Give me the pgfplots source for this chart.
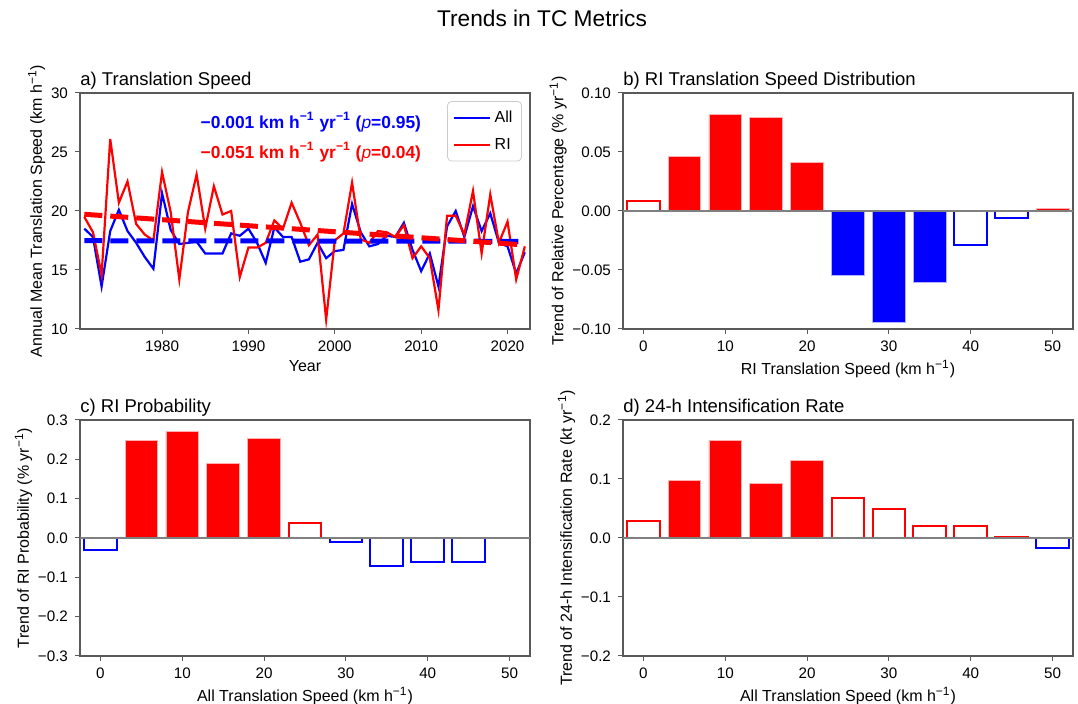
\documentclass[border=0pt]{standalone}
\usepackage{fontspec}
\setmainfont{Liberation Sans}
\usepackage{pgfplots}
\pgfplotsset{compat=1.18}

\definecolor{framegray}{gray}{0.35}
\definecolor{zerogray}{gray}{0.5}

\newcommand{\ticksize}{\fontsize{7.6}{9}\selectfont}
\newcommand{\labsize}{\fontsize{8}{9.5}\selectfont}
\newcommand{\inv}{\textsuperscript{−1}}

\pgfplotsset{
  panel/.style={
    scale only axis, width=225pt, height=118pt, anchor=south west,
    axis line style={framegray, line width=0.6pt},
    tick style={framegray, line width=0.5pt},
    tick align=outside, major tick length=2.5pt,
    xtick pos=bottom, ytick pos=left,
    tick label style={font=\ticksize, text=black},
    label style={font=\labsize},
    xlabel style={yshift=2.5pt},
    ylabel style={yshift=-4pt},
    title style={font=\fontsize{9.25}{11}\selectfont, at={(0,1)}, anchor=base west, yshift=-2.25pt, inner sep=0pt},
    /pgf/number format/assume math mode=true,
  },
  barpanel/.style={panel, ybar, xmin=-2.5, xmax=52.5, xtick={0,10,...,50}, bar width=4},
  fillred/.style={fill=red, draw=red!30!white, line width=0.4pt, bar shift=0pt},
  fillblue/.style={fill=blue, draw=blue!30!white, line width=0.4pt, bar shift=0pt},
  openred/.style={fill=none, draw=red, line width=1pt, bar shift=0pt},
  openblue/.style={fill=none, draw=blue, line width=1pt, bar shift=0pt},
}

\begin{document}
\begin{tikzpicture}
\useasboundingbox (0,0) rectangle (539pt,352pt);
\node[font=\fontsize{11.35}{13}\selectfont] at (271pt,343pt) {Trends in TC Metrics};

% a) annual mean translation speed
\begin{axis}[panel, at={(40pt,187.5pt)},
  title={a) Translation Speed},
  xmin=1970.5, xmax=2022.6, ymin=10, ymax=30,
  xtick={1980,1990,...,2020}, ytick={10,15,...,30},
  x tick label style={/pgf/number format/1000 sep={}},
  xlabel={Year}, ylabel={Annual Mean Translation Speed (km h\inv)},
  legend style={at={(0.982,0.966)}, anchor=north east, draw=black!20, rounded corners=2pt,
    font=\labsize, inner sep=2.5pt, row sep=2.5pt},
  legend image code/.code={\draw[#1] (0pt,0pt) -- (18pt,0pt);},
  legend cell align=left,
]
\addplot[blue, line width=1.1pt] coordinates {
(1971,18.5) (1972,17.8) (1973,13.6) (1974,18.3) (1975,20.1) (1976,18.3) (1977,17.3) (1978,16.1)
(1979,15.1) (1980,21.5) (1981,18.4) (1982,17.2) (1983,17.3) (1984,17.4) (1985,16.4) (1986,16.4)
(1987,16.4) (1988,18.1) (1989,17.9) (1990,18.5) (1991,17.3) (1992,15.6) (1993,18.6) (1994,17.8)
(1995,17.8) (1996,15.7) (1997,15.9) (1998,17.3) (1999,16.0) (2000,16.6) (2001,16.7) (2002,20.6)
(2003,18.2) (2004,17.0) (2005,17.2) (2006,17.9) (2007,17.8) (2008,19.0) (2009,16.7) (2010,14.9)
(2011,16.4) (2012,13.6) (2013,18.7) (2014,20.0) (2015,17.8) (2016,20.4) (2017,18.3) (2018,19.8)
(2019,17.3) (2020,17.0) (2021,14.7) (2022,16.5)
};
\addlegendentry{All}
\addplot[red, line width=1.1pt] coordinates {
(1971,19.5) (1972,18.2) (1973,14.6) (1974,26.1) (1975,20.7) (1976,22.5) (1977,18.9) (1978,18.0)
(1979,17.5) (1980,23.3) (1981,19.9) (1982,14.2) (1983,19.9) (1984,23.1) (1985,18.5) (1986,22.1)
(1987,19.7) (1988,20.0) (1989,14.4) (1990,16.9) (1991,16.9) (1992,17.3) (1993,19.2) (1994,18.5)
(1995,20.7) (1996,19.0) (1997,17.1) (1998,18.0) (1999,10.8) (2000,17.5) (2001,18.1) (2002,22.4)
(2003,17.6) (2004,17.3) (2005,18.3) (2006,18.2) (2007,17.8) (2008,18.8) (2009,16.0) (2010,17.0)
(2011,16.0) (2012,11.6) (2013,19.6) (2014,19.6) (2015,18.0) (2016,21.7) (2017,16.4) (2018,21.4)
(2019,17.3) (2020,19.1) (2021,14.2) (2022,17.0)
};
\addlegendentry{RI}
\addplot[blue, line width=2.5pt, dash pattern=on 9pt off 4pt, forget plot] coordinates {(1971,17.48) (2022,17.43)};
\addplot[red, line width=2.5pt, dash pattern=on 9pt off 4pt, forget plot] coordinates {(1971,19.72) (2022,17.12)};
\node[blue, font=\bfseries\fontsize{8.7}{10}\selectfont] at (rel axis cs:0.513,0.877)
  {−0.001 km h\inv{} yr\inv{} ({\mdseries\itshape p}=0.95)};
\node[red, font=\bfseries\fontsize{8.7}{10}\selectfont] at (rel axis cs:0.513,0.749)
  {−0.051 km h\inv{} yr\inv{} ({\mdseries\itshape p}=0.04)};
\end{axis}

% b) RI translation speed distribution
\begin{axis}[barpanel, at={(311.5pt,187.5pt)},
  title={b) RI Translation Speed Distribution},
  ymin=-0.1, ymax=0.1, ytick={-0.1,-0.05,0,0.05,0.1},
  yticklabels={−0.10,−0.05,0.00,0.05,0.10},
  xlabel={RI Translation Speed (km h\inv)}, ylabel={Trend of Relative Percentage (\% yr\inv)},
]
\addplot[fillred] coordinates {(5,0.046) (10,0.0815) (15,0.079) (20,0.041) (50,0.0023)};
\addplot[fillblue] coordinates {(25,-0.055) (30,-0.0945) (35,-0.0607)};
\addplot[openred] coordinates {(0,0.0085)};
\addplot[openblue] coordinates {(40,-0.0288) (45,-0.0062)};
\draw[zerogray, line width=1.25pt] (axis cs:-2.5,0) -- (axis cs:52.5,0);
\end{axis}

% c) RI probability
\begin{axis}[barpanel, at={(40pt,24pt)},
  title={c) RI Probability},
  ymin=-0.3, ymax=0.3, ytick={-0.3,-0.2,...,0.3},
  yticklabels={−0.3,−0.2,−0.1,0.0,0.1,0.2,0.3},
  xlabel={All Translation Speed (km h\inv)}, ylabel={Trend of RI Probability (\% yr\inv)},
]
\addplot[fillred] coordinates {(5,0.2475) (10,0.271) (15,0.19) (20,0.2535)};
\addplot[openred] coordinates {(25,0.0385)};
\addplot[openblue] coordinates {(0,-0.0317) (30,-0.0106) (35,-0.07) (40,-0.0614) (45,-0.0614)};
\draw[zerogray, line width=1.25pt] (axis cs:-2.5,0) -- (axis cs:52.5,0);
\end{axis}

% d) 24-h intensification rate
\begin{axis}[barpanel, at={(311.5pt,24pt)},
  title={d) 24-h Intensification Rate},
  ymin=-0.2, ymax=0.2, ytick={-0.2,-0.1,0,0.1,0.2},
  yticklabels={−0.2,−0.1,0.0,0.1,0.2},
  xlabel={All Translation Speed (km h\inv)}, ylabel={Trend of 24-h Intensification Rate (kt yr\inv)},
]
\addplot[fillred] coordinates {(5,0.098) (10,0.166) (15,0.0917) (20,0.131)};
\addplot[openred] coordinates {(0,0.0296) (25,0.068) (30,0.0488) (35,0.0206) (40,0.0195) (45,0.0025)};
\addplot[openblue] coordinates {(50,-0.0166)};
\draw[zerogray, line width=1.25pt] (axis cs:-2.5,0) -- (axis cs:52.5,0);
\end{axis}
\end{tikzpicture}
\end{document}
